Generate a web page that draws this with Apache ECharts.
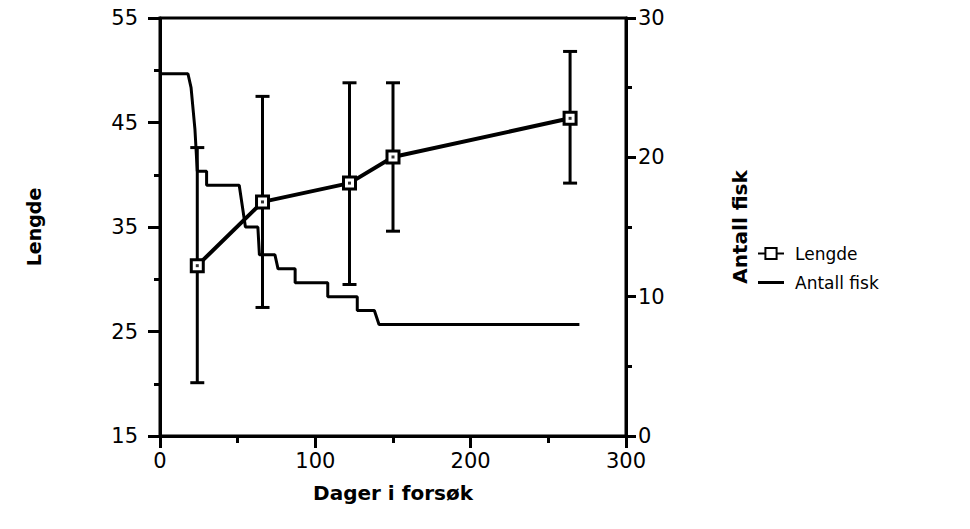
<!DOCTYPE html>
<html>
<head>
<meta charset="utf-8">
<script src="https://cdn.jsdelivr.net/npm/echarts@6/dist/echarts.min.js"></script>
<style>
  html, body { margin: 0; padding: 0; background: #fff; }
  #chart { width: 970px; height: 529px; }
</style>
</head>
<body>
<div id="chart"></div>
<script>
// Lengde (venstre akse) med feilstolper
var dager = [24, 66, 122, 150, 264];
var lengde = [31.3, 37.4, 39.2, 41.7, 45.4];
var lengdeOvre = [42.6, 47.5, 48.8, 48.8, 51.8];
var lengdeNedre = [20.1, 27.3, 29.5, 34.6, 39.2];

// Antall fisk (hoyre akse), trappekurve lest av bildet
var fiskDager = [0, 18, 20, 22.5, 24, 30, 30, 51, 55, 63, 64, 74, 76, 87, 87, 108, 108, 127, 127, 138, 141, 270];
var fiskAntall = [26, 26, 25, 22, 19, 19, 18, 18, 15, 15, 13, 13, 12, 12, 11, 11, 10, 10, 9, 9, 8, 8];

var ink = '#000';
var font = 'DejaVu Sans';

var chart = echarts.init(document.getElementById('chart'), null, { renderer: 'svg' });

var lengdeData = dager.map(function(d, i) { return [d, lengde[i]]; });
var feilData = dager.map(function(d, i) { return [d, lengdeNedre[i], lengdeOvre[i]]; });
var fiskData = fiskDager.map(function(d, i) { return [d, fiskAntall[i]]; });

chart.setOption({
  animation: false,
  backgroundColor: '#fff',
  grid: {
    left: 160, right: 344, top: 18, bottom: 93,
    show: true, borderColor: ink, borderWidth: 3, backgroundColor: 'transparent'
  },
  legend: {
    orient: 'vertical',
    left: 752, top: 240,
    itemWidth: 26, itemHeight: 14, itemGap: 12,
    data: [
      { name: 'Lengde' },
      { name: 'Antall fisk', icon: 'path://M0,0h26v3h-26z' }
    ],
    textStyle: { color: ink, fontFamily: font, fontSize: 17, padding: [0, 0, 0, 6] }
  },
  xAxis: {
    type: 'value',
    min: 0, max: 300, interval: 100,
    name: 'Dager i forsøk',
    nameLocation: 'middle',
    nameGap: 47,
    nameTextStyle: { color: ink, fontFamily: font, fontSize: 20, fontWeight: 'bold' },
    axisLine: { lineStyle: { color: ink, width: 3 } },
    axisTick: { length: 12, lineStyle: { color: ink, width: 3 } },
    minorTick: { show: true, splitNumber: 2, length: 7, lineStyle: { color: ink, width: 3 } },
    splitLine: { show: false },
    axisLabel: { color: ink, fontFamily: font, fontSize: 21, margin: 14 }
  },
  yAxis: [
    {
      type: 'value',
      min: 15, max: 55, interval: 10,
      name: 'Lengde',
      nameLocation: 'middle',
      nameGap: 117,
      nameTextStyle: { color: ink, fontFamily: font, fontSize: 19, fontWeight: 'bold' },
      axisLine: { show: true, lineStyle: { color: ink, width: 3 } },
      axisTick: { show: true, length: 12, lineStyle: { color: ink, width: 3 } },
      minorTick: { show: true, splitNumber: 2, length: 6, lineStyle: { color: ink, width: 3 } },
      splitLine: { show: false },
      axisLabel: { color: ink, fontFamily: font, fontSize: 21, margin: 22 }
    },
    {
      type: 'value',
      min: 0, max: 30, interval: 10,
      position: 'right',
      name: 'Antall fisk',
      nameLocation: 'middle',
      nameGap: 104,
      nameTextStyle: { color: ink, fontFamily: font, fontSize: 20, fontWeight: 'bold' },
      axisLine: { show: true, lineStyle: { color: ink, width: 3 } },
      axisTick: { show: true, length: 10, lineStyle: { color: ink, width: 3 } },
      minorTick: { show: true, splitNumber: 2, length: 6, lineStyle: { color: ink, width: 3 } },
      splitLine: { show: false },
      axisLabel: { color: ink, fontFamily: font, fontSize: 21, margin: 12 }
    }
  ],
  series: [
    {
      name: 'Antall fisk',
      type: 'line',
      yAxisIndex: 1,
      data: fiskData,
      symbol: 'none',
      lineStyle: { color: ink, width: 3 },
      itemStyle: { color: ink },
      z: 2
    },
    {
      name: 'feil',
      type: 'custom',
      yAxisIndex: 0,
      data: feilData,
      silent: true,
      z: 3,
      renderItem: function(params, api) {
        var x = api.value(0);
        var lo = api.coord([x, api.value(1)]);
        var hi = api.coord([x, api.value(2)]);
        var half = 7;
        var st = { stroke: ink, lineWidth: 3 };
        return {
          type: 'group',
          children: [
            { type: 'line', shape: { x1: lo[0], y1: lo[1], x2: hi[0], y2: hi[1] }, style: st },
            { type: 'line', shape: { x1: lo[0] - half, y1: lo[1], x2: lo[0] + half, y2: lo[1] }, style: st },
            { type: 'line', shape: { x1: hi[0] - half, y1: hi[1], x2: hi[0] + half, y2: hi[1] }, style: st }
          ]
        };
      }
    },
    {
      name: 'Lengde',
      type: 'line',
      yAxisIndex: 0,
      data: lengdeData,
      symbol: 'rect',
      symbolSize: 12,
      lineStyle: { color: ink, width: 4 },
      itemStyle: { color: '#fff', borderColor: ink, borderWidth: 3 },
      z: 4
    },
    {
      name: 'prikk',
      type: 'scatter',
      yAxisIndex: 0,
      data: lengdeData,
      symbol: 'rect',
      symbolSize: 3,
      itemStyle: { color: ink },
      silent: true,
      z: 5
    }
  ]
});
</script>
</body>
</html>
